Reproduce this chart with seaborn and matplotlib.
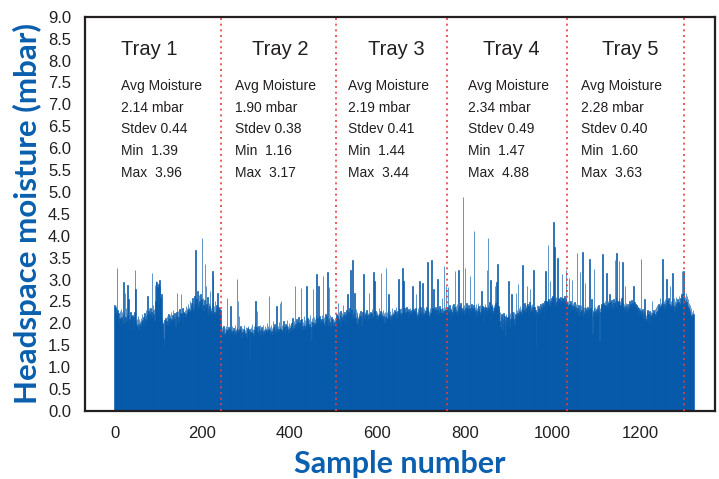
import numpy as np
import pandas as pd
import matplotlib
matplotlib.use('Agg')
import matplotlib.pyplot as plt
from matplotlib.ticker import MultipleLocator
import seaborn as sns

# headspace moisture per sample (mbar)
tray1 = [
    2.41, 2.38, 2.35, 2.40, 2.22, 3.26, 2.18, 2.31, 2.05, 2.24, 1.96, 2.12, 2.28, 2.09, 2.33, 1.92, 2.15, 2.26, 2.02, 2.19,
    2.95, 2.11, 2.23, 1.98, 2.70, 2.14, 2.35, 2.06, 2.21, 2.87, 2.04, 2.18, 2.55, 1.88, 2.10, 2.03, 2.25, 1.95, 2.12, 2.16,
    2.08, 2.20, 1.86, 2.14, 2.01, 2.27, 3.21, 2.13, 2.78, 2.05, 1.97, 2.09, 1.91, 2.17, 2.02, 1.84, 2.11, 1.99, 2.06, 1.93,
    2.12, 2.04, 1.89, 2.21, 2.07, 1.95, 2.15, 2.00, 2.24, 1.92, 2.10, 2.18, 2.31, 2.05, 2.22, 2.63, 2.16, 2.28, 2.19, 2.34,
    2.21, 2.08, 2.36, 2.17, 2.25, 3.16, 2.14, 2.30, 2.42, 2.22, 2.33, 2.05, 2.88, 2.52, 2.97, 2.36, 2.94, 2.47, 2.83, 2.25,
    2.91, 2.44, 2.99, 2.38, 2.86, 2.57, 2.29, 2.66, 2.11, 1.98, 1.86, 2.04, 1.64, 1.39, 2.08, 1.78, 2.12, 1.96, 2.06, 1.89,
    2.16, 1.97, 2.09, 2.22, 2.01, 2.13, 1.94, 2.18, 2.05, 2.27, 2.10, 1.99, 2.20, 2.31, 2.07, 2.15, 2.03, 2.24, 2.12, 1.92,
    2.19, 2.26, 2.08, 2.70, 2.14, 2.29, 2.02, 2.17, 2.33, 2.11, 2.23, 2.66, 2.06, 2.21, 2.14, 2.35, 1.98, 2.27, 2.18, 2.09,
    2.24, 2.31, 2.15, 2.40, 2.22, 2.36, 2.28, 2.45, 2.19, 2.33, 2.38, 2.26, 2.52, 2.30, 2.41, 2.25, 2.47, 2.34, 2.58, 2.37,
    2.29, 2.44, 2.62, 2.35, 2.49, 3.67, 2.41, 2.56, 2.32, 2.73, 2.46, 2.38, 2.64, 2.27, 2.51, 2.43, 2.68, 2.36, 2.55, 3.96,
    2.48, 2.31, 2.58, 2.42, 2.26, 2.53, 3.35, 2.37, 2.85, 2.29, 2.44, 2.21, 2.61, 2.34, 2.18, 2.47, 2.25, 2.39, 2.74, 2.28,
    2.36, 2.22, 2.45, 3.20, 2.31, 3.04, 2.19, 2.40, 2.27, 2.52, 2.24, 2.35, 2.16, 2.43, 2.29, 2.70, 2.21, 2.38, 2.12, 2.33,
    2.25, 2.18, 2.30,
]
tray2 = [
    1.98, 1.82, 1.91, 1.76, 1.87, 1.69, 1.94, 1.80, 1.73, 1.89, 1.78, 1.95, 1.84, 1.71, 2.59, 1.86, 1.79, 1.92, 1.75, 1.88,
    1.81, 1.70, 2.40, 1.85, 1.77, 1.93, 1.83, 1.68, 1.90, 1.79, 1.86, 1.74, 1.96, 1.82, 1.88, 1.76, 3.02, 1.91, 1.84, 2.50,
    1.80, 2.17, 1.87, 1.72, 1.94, 1.78, 1.85, 1.67, 1.90, 1.81, 1.75, 1.88, 1.83, 1.97, 1.73, 1.86, 1.79, 1.92, 1.70, 1.84,
    1.89, 1.77, 1.95, 1.82, 1.74, 1.87, 1.16, 1.80, 1.91, 1.76, 1.85, 1.99, 1.78, 1.88, 1.71, 1.93, 1.84, 1.79, 2.02, 2.51,
    1.86, 1.92, 2.28, 1.81, 1.75, 1.94, 1.83, 1.89, 1.72, 1.97, 1.85, 1.78, 1.91, 1.80, 1.87, 1.74, 1.96, 1.82, 1.88, 1.79,
    1.93, 1.84, 1.77, 1.90, 1.86, 2.01, 1.81, 1.94, 1.88, 1.76, 2.62, 1.85, 1.92, 1.79, 1.97, 1.83, 1.89, 1.74, 2.05, 1.87,
    1.91, 1.82, 1.98, 1.86, 1.78, 1.93, 1.84, 2.40, 1.90, 1.80, 1.95, 1.87, 2.03, 1.83, 1.92, 2.47, 1.88, 2.50, 1.85, 1.97,
    1.81, 1.94, 1.89, 2.06, 1.84, 1.91, 1.77, 1.99, 1.86, 1.93, 1.82, 2.08, 1.88, 1.95, 1.79, 2.02, 1.90, 1.85, 1.97, 1.83,
    1.94, 2.01, 1.87, 2.12, 1.92, 1.84, 2.05, 1.96, 1.89, 2.85, 1.98, 1.86, 2.09, 1.93, 1.56, 2.03, 1.91, 2.14, 1.88, 2.00,
    1.95, 2.07, 2.80, 1.90, 2.11, 1.97, 1.85, 2.04, 1.93, 2.16, 1.99, 1.87, 2.08, 1.94, 2.02, 2.85, 1.96, 2.13, 1.89, 2.06,
    1.92, 2.10, 1.98, 2.18, 1.91, 2.05, 1.60, 2.12, 1.97, 2.03, 2.78, 1.95, 2.15, 2.01, 1.93, 2.09, 1.99, 2.20, 3.12, 2.04,
    2.13, 1.96, 2.85, 2.07, 1.90, 2.17, 2.01, 2.11, 1.94, 2.06, 2.19, 1.98, 2.10, 3.08, 2.02, 2.14, 1.93, 2.08, 2.22, 1.97,
    2.05, 2.16, 1.99, 3.17, 2.09, 1.95, 2.12, 2.82, 2.03, 2.18, 1.92, 2.07, 2.14, 1.98, 2.10, 2.01, 1.66, 1.94, 2.08, 2.04,
    2.11, 1.96,
]
tray3 = [
    2.14, 2.06, 2.21, 1.98, 2.17, 2.47, 2.09, 2.25, 2.02, 2.19, 2.11, 2.28, 1.95, 2.15, 2.23, 2.07, 2.43, 2.12, 2.20, 2.04,
    2.26, 2.10, 2.18, 1.99, 2.31, 2.13, 2.22, 2.66, 2.08, 2.27, 2.16, 2.35, 2.05, 2.24, 3.23, 2.19, 2.30, 2.11, 3.44, 2.21,
    2.14, 2.28, 2.07, 2.70, 2.23, 2.12, 2.33, 2.01, 2.18, 2.26, 1.97, 2.15, 2.09, 2.24, 2.17, 2.05, 2.29, 2.13, 2.20, 1.94,
    2.16, 2.25, 2.08, 3.12, 2.19, 2.11, 2.27, 2.03, 2.22, 2.14, 2.31, 2.06, 2.18, 2.24, 1.44, 2.10, 2.70, 2.21, 2.15, 2.26,
    2.09, 2.23, 2.17, 2.32, 2.12, 2.20, 3.17, 2.07, 2.97, 2.25, 2.13, 2.29, 2.04, 2.19, 2.27, 2.11, 2.22, 2.16, 2.34, 2.08,
    2.21, 2.14, 2.28, 3.14, 2.18, 2.06, 2.25, 2.12, 2.30, 2.17, 2.23, 2.02, 2.27, 2.15, 3.27, 2.20, 2.10, 2.26, 2.13, 2.33,
    2.66, 2.19, 2.24, 2.08, 2.29, 2.16, 2.21, 2.11, 2.35, 2.18, 2.05, 2.27, 2.22, 2.14, 2.31, 2.09, 2.25, 2.17, 2.38, 2.12,
    2.23, 2.28, 2.15, 3.02, 2.20, 2.32, 2.11, 2.26, 2.18, 2.36, 2.24, 2.13, 3.27, 2.29, 2.19, 2.97, 2.22, 2.34, 2.14, 2.27,
    2.21, 2.37, 2.16, 2.30, 2.25, 2.12, 2.33, 2.20, 2.28, 2.09, 2.35, 2.23, 2.18, 2.31, 2.26, 2.85, 2.19, 2.32, 2.24, 2.15,
    2.29, 2.22, 2.36, 2.66, 2.20, 2.27, 2.13, 2.34, 2.25, 2.18, 2.31, 2.97, 2.23, 2.38, 2.16, 2.28, 2.21, 2.33, 2.93, 2.26,
    2.19, 2.35, 2.24, 2.30, 2.14, 2.28, 2.22, 2.37, 2.18, 3.40, 2.26, 2.32, 2.20, 2.29, 2.15, 2.34, 2.23, 2.27, 3.44, 2.31,
    2.21, 2.36, 2.25, 2.78, 2.19, 2.33, 2.28, 2.22, 2.38, 2.17, 2.30, 2.24, 3.02, 2.35, 2.20, 2.29, 2.26, 2.39, 2.18, 2.32,
    2.27, 2.23, 2.36, 2.59, 2.21, 2.34, 2.28, 3.31, 2.25, 2.38, 2.30, 2.85, 2.24,
]
tray4 = [
    2.31, 2.24, 2.38, 2.84, 2.27, 2.19, 2.35, 2.42, 2.22, 2.30, 2.36, 2.25, 2.41, 2.18, 2.33, 2.28, 2.45, 2.21, 2.37, 3.20,
    2.26, 2.39, 2.32, 2.20, 2.44, 2.29, 2.35, 3.23, 2.23, 2.40, 2.31, 2.27, 2.46, 2.19, 2.36, 2.33, 2.25, 4.88, 2.38, 2.30,
    2.42, 2.22, 3.27, 2.34, 2.28, 2.47, 2.21, 2.37, 2.32, 2.26, 2.43, 2.18, 2.35, 3.08, 2.29, 2.40, 2.24, 2.45, 2.31, 2.36,
    2.27, 2.41, 2.33, 4.12, 2.25, 2.38, 2.30, 2.44, 2.20, 2.36, 2.28, 2.47, 2.23, 2.39, 2.32, 2.26, 2.42, 2.19, 2.35, 2.29,
    2.75, 2.31, 2.40, 2.24, 2.37, 1.98, 2.33, 2.45, 2.27, 2.38, 2.21, 2.34, 3.23, 2.29, 2.43, 3.94, 2.36, 2.25, 2.48, 2.32,
    3.00, 2.26, 2.39, 2.30, 2.44, 2.22, 2.37, 2.28, 2.41, 2.34, 2.85, 2.27, 2.46, 2.31, 2.95, 2.38, 3.35, 2.24, 2.40, 2.33,
    2.18, 2.05, 2.26, 1.92, 2.14, 2.22, 2.01, 2.19, 1.86, 2.11, 2.24, 1.97, 2.16, 2.08, 1.73, 2.21, 2.03, 2.15, 1.95, 2.12,
    2.20, 2.97, 2.06, 2.17, 1.90, 2.23, 2.09, 2.14, 2.66, 2.02, 2.25, 1.79, 2.18, 2.11, 2.27, 1.96, 2.13, 2.22, 2.07, 2.70,
    2.16, 2.30, 2.24, 2.90, 2.19, 2.35, 2.28, 2.12, 2.40, 2.26, 2.33, 2.21, 2.38, 3.33, 2.29, 2.44, 2.31, 2.25, 2.47, 2.36,
    2.27, 2.42, 2.34, 2.85, 2.30, 2.45, 2.23, 2.39, 2.32, 2.48, 2.78, 2.26, 2.41, 2.35, 2.29, 2.44, 2.37, 2.21, 3.23, 2.33,
    2.25, 2.38, 2.19, 2.31, 1.47, 2.27, 2.42, 2.22, 2.35, 2.16, 2.40, 2.28, 2.33, 2.20, 2.44, 2.30, 2.24, 2.37, 2.29, 2.46,
    2.34, 2.41, 2.27, 2.50, 2.38, 2.45, 3.20, 2.36, 2.52, 2.43, 2.48, 3.80, 2.40, 2.55, 2.47, 2.39, 2.97, 2.51, 2.44, 2.58,
    2.42, 2.49, 2.62, 2.46, 4.32, 2.53, 3.74, 2.45, 2.57, 2.40, 2.60, 2.48, 2.54, 3.49, 2.43, 2.59, 2.50, 2.36, 2.56, 2.47,
    2.61, 2.44, 2.52, 3.12, 2.49, 2.58, 2.41, 2.55, 2.46, 2.63, 2.38, 2.51, 2.57, 3.21, 2.48,
]
tray5 = [
    2.46, 2.38, 2.52, 2.41, 2.35, 3.04, 2.44, 2.29, 2.50, 2.37, 2.43, 3.00, 2.32, 2.47, 2.26, 2.40, 2.34, 2.49, 2.22, 2.38,
    2.31, 2.45, 2.27, 3.61, 2.36, 2.20, 2.42, 2.33, 2.18, 2.39, 3.17, 2.25, 2.41, 2.30, 2.21, 3.63, 2.34, 2.16, 2.37, 2.28,
    2.23, 2.93, 2.35, 2.19, 2.31, 1.92, 2.27, 2.38, 2.14, 2.33, 2.24, 3.48, 2.29, 2.36, 2.20, 2.32, 2.55, 2.17, 1.75, 2.30,
    2.26, 3.25, 2.34, 2.21, 2.37, 2.28, 2.13, 2.32, 2.40, 2.24, 2.35, 2.19, 2.43, 2.30, 1.60, 2.36, 2.27, 2.41, 2.33, 2.45,
    2.38, 3.59, 2.31, 2.47, 2.36, 2.42, 2.29, 2.50, 2.39, 2.34, 3.16, 2.44, 2.37, 2.51, 2.30, 2.46, 2.40, 2.66, 2.35, 2.48,
    2.42, 2.53, 2.37, 2.45, 2.32, 2.49, 2.56, 2.40, 2.47, 3.44, 2.51, 2.38, 2.60, 3.60, 2.44, 2.52, 2.36, 2.48, 2.55, 3.42,
    2.43, 2.50, 2.39, 2.46, 2.58, 2.41, 2.34, 3.40, 2.49, 2.37, 2.45, 2.30, 2.85, 2.40, 2.33, 2.47, 2.26, 2.38, 2.44, 2.31,
    2.36, 2.42, 2.28, 2.50, 2.34, 2.45, 2.39, 2.53, 2.32, 2.47, 2.37, 2.43, 2.85, 2.40, 2.48, 2.35, 2.44, 2.30, 2.41, 2.33,
    2.27, 2.38, 2.21, 2.34, 2.16, 2.30, 2.25, 2.36, 2.19, 3.48, 2.28, 2.14, 2.32, 2.23, 2.09, 2.29, 2.18, 2.55, 2.24, 2.11,
    2.20, 2.06, 2.26, 2.15, 2.31, 1.98, 2.22, 2.12, 2.28, 2.04, 2.19, 2.25, 1.86, 2.17, 2.50, 2.23, 2.10, 2.30, 2.14, 2.27,
    2.21, 2.33, 2.16, 2.38, 2.25, 2.42, 2.29, 2.36, 2.20, 2.45, 2.31, 2.39, 2.58, 2.34, 2.47, 2.27, 2.41, 2.52, 3.46, 2.37,
    2.44, 2.50, 2.32, 2.46, 2.55, 2.39, 2.48, 3.02, 2.42, 2.53, 2.36, 2.49, 2.57, 2.41, 2.45, 2.85, 2.38, 2.51, 2.43, 2.56,
    2.34, 3.16, 2.47, 2.40, 2.58, 2.29, 2.52, 2.44, 2.37, 2.60, 2.46, 2.33, 2.55, 2.41, 2.49, 2.36, 2.62, 2.45, 2.39, 2.57,
    2.48, 2.66, 3.20, 2.51, 2.43, 2.70, 3.20, 2.58,
]
# samples after the last tray marker
tail = [
    2.52, 2.61, 2.45, 2.70, 2.56, 2.48, 2.63, 2.40, 2.55, 2.36, 2.47, 2.29, 2.42, 2.23, 2.18, 2.35, 2.14, 2.26, 2.20, 2.31,
    2.17, 2.22,
]

tray_names = ['Tray 1', 'Tray 2', 'Tray 3', 'Tray 4', 'Tray 5']
avg_moist = [2.14, 1.90, 2.19, 2.34, 2.28]
stdev = [0.44, 0.38, 0.41, 0.49, 0.40]
min_moist = [1.39, 1.16, 1.44, 1.47, 1.60]
max_moist = [3.96, 3.17, 3.44, 4.88, 3.63]

trays = [tray1, tray2, tray3, tray4, tray5, tail]
values = np.concatenate(trays)
df = pd.DataFrame({'sample': np.arange(len(values)), 'moisture': values})
# tray boundaries = cumulative sample counts
bounds = np.cumsum([len(t) for t in trays])[:-1]

BLUE = '#0559a9'
LABEL_BLUE = '#0a5fae'
DARK = '#231f20'

sns.set_style('white')
plt.rcParams['font.family'] = ['Liberation Sans', 'DejaVu Sans']

fig = plt.figure(figsize=(7.19, 4.79), dpi=100)
ax = fig.add_axes([0.118, 0.142, 0.876, 0.823])

# thin edge on each bar so single-sample spikes stay visible like in the original
sns.histplot(data=df, x='sample', weights='moisture', discrete=True,
             element='bars', fill=True, color=BLUE, alpha=1,
             edgecolor=BLUE, linewidth=0.45, ax=ax)

for b in bounds:
    ax.axvline(b, color='#e8403c', linestyle=(0, (1.2, 2.2)), linewidth=1.2, zorder=5)

ax.set_xlim(-68, 1370)
ax.set_ylim(0, 9)
ax.set_xticks(range(0, 1400, 100))
ax.set_xticklabels([str(v) if v % 200 == 0 else '' for v in range(0, 1400, 100)])
ax.set_yticks(np.arange(0, 9.01, 0.5))
ax.set_yticklabels(['%.1f' % v for v in np.arange(0, 9.01, 0.5)])
ax.yaxis.set_minor_locator(MultipleLocator(0.25))

ax.tick_params(axis='x', which='major', direction='inout', length=9, width=1.6,
               labelsize=12, labelcolor=DARK, color=DARK, pad=6)
ax.tick_params(axis='y', which='major', direction='out', length=8, width=1.6,
               labelsize=12, labelcolor=DARK, color=DARK, pad=2)
ax.tick_params(axis='y', which='minor', direction='out', length=4, width=1.4, color=DARK)
for s in ax.spines.values():
    s.set_visible(True)
    s.set_linewidth(1.6)
    s.set_color(DARK)

ax.set_xlabel('Sample number', fontsize=22, fontweight='bold', color=LABEL_BLUE,
              family=['Lato', 'DejaVu Sans'], labelpad=7)
ax.set_ylabel('Headspace moisture (mbar)', fontsize=22.5, fontweight='bold', color=LABEL_BLUE,
              family=['Lato', 'DejaVu Sans'], labelpad=4)

# tray annotations
title_x = [78, 378, 642, 905, 1177]
text_x = [15, 275, 533, 807, 1065]
for i in range(5):
    ax.text(title_x[i], 8.13, tray_names[i], ha='center', va='baseline', fontsize=14.5, color=DARK)
    lines = ['Avg Moisture', '%.2f mbar' % avg_moist[i], 'Stdev %.2f' % stdev[i],
             'Min  %.2f' % min_moist[i], 'Max  %.2f' % max_moist[i]]
    for j, line in enumerate(lines):
        ax.text(text_x[i], 7.33 - 0.495 * j, line, ha='left', va='baseline', fontsize=10, color=DARK)

fig.savefig('out.png', dpi=100)
